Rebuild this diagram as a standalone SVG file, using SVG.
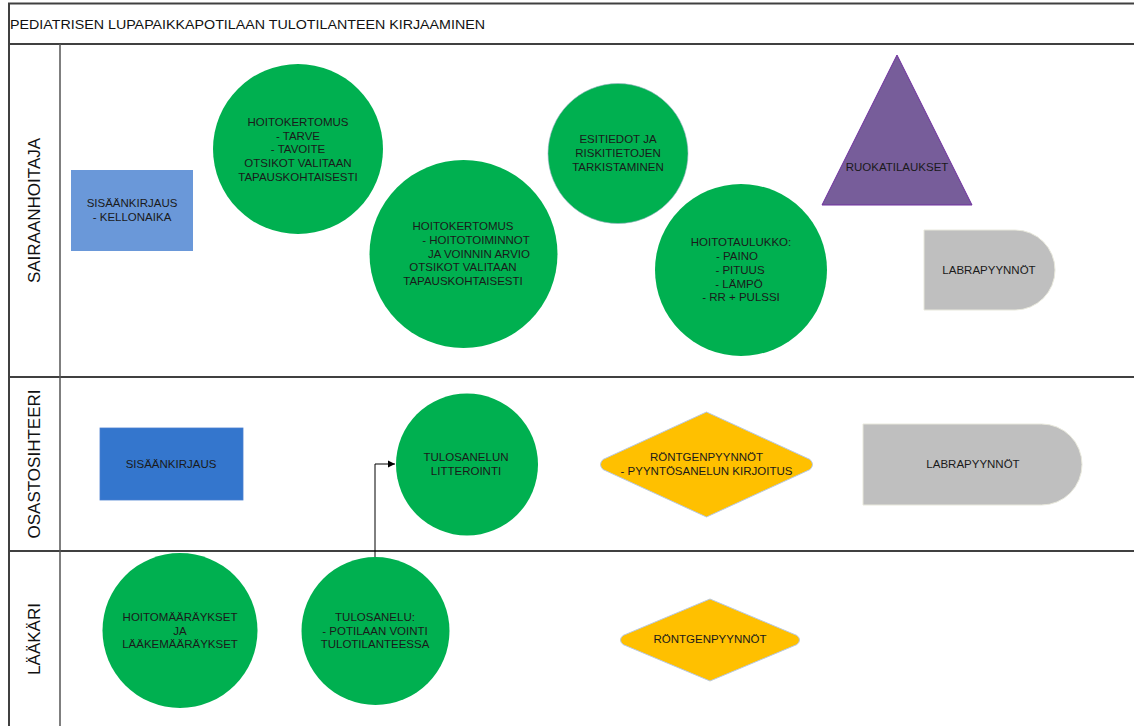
<svg xmlns="http://www.w3.org/2000/svg" width="1134" height="726" viewBox="0 0 1134 726">
<defs>
<style>
.t{font-family:"Liberation Sans",Arial,sans-serif;font-size:11.5px;fill:#1a1a1a;text-anchor:middle}
.lane{font-family:"Liberation Sans",Arial,sans-serif;font-size:17px;fill:#111;text-anchor:middle}
.green{fill:#00B050}
.grid{stroke:#404040;stroke-width:2;fill:none}
.lab{fill:#BFBFBF;stroke:#E8E8DC;stroke-width:1}
.dia{fill:#FFC000;stroke:#B8C8E0;stroke-width:1}
</style>
<marker id="arr" markerWidth="8" markerHeight="8" refX="7" refY="4" orient="auto" markerUnits="userSpaceOnUse">
<path d="M0,0.5 L7,4 L0,7.5 Z" fill="#000"/>
</marker>
</defs>
<rect width="1134" height="726" fill="#fff"/>
<g id="frame">
<rect class="grid" x="9" y="3.5" width="1140" height="740"/>
<line class="grid" x1="9" y1="44" x2="1140" y2="44"/>
<line class="grid" x1="9" y1="377" x2="1140" y2="377"/>
<line class="grid" x1="9" y1="551" x2="1140" y2="551"/>
<line x1="60" y1="44" x2="60" y2="740" stroke="#555" stroke-width="1.5"/>
<text x="10" y="29" font-family="'Liberation Sans',Arial,sans-serif" font-size="13" fill="#111" textLength="475" lengthAdjust="spacingAndGlyphs">PEDIATRISEN LUPAPAIKKAPOTILAAN TULOTILANTEEN KIRJAAMINEN</text>
<text class="lane" transform="translate(40,210.5) rotate(-90)">SAIRAANHOITAJA</text>
<text class="lane" transform="translate(40,464) rotate(-90)">OSASTOSIHTEERI</text>
<text class="lane" transform="translate(40,639) rotate(-90)">LÄÄKÄRI</text>
</g>
<g id="connectors">
<polyline points="375,557 375,464 395,464" fill="none" stroke="#000" stroke-width="1" marker-end="url(#arr)"/>
</g>
<g id="n-sisaan1">
<rect x="71" y="170" width="122" height="81" fill="#6A98D9"/>
<text class="t" x="132" y="207">SISÄÄNKIRJAUS</text>
<text class="t" x="132" y="221">- KELLONAIKA</text>
</g>
<g id="n-hoitokertomus1">
<circle class="green" cx="298" cy="149" r="85"/>
<text class="t" x="298" y="126">HOITOKERTOMUS</text>
<text class="t" x="298" y="139.5">- TARVE</text>
<text class="t" x="298" y="153">- TAVOITE</text>
<text class="t" x="298" y="167">OTSIKOT VALITAAN</text>
<text class="t" x="298" y="181">TAPAUSKOHTAISESTI</text>
</g>
<g id="n-hoitokertomus2">
<circle class="green" cx="463.5" cy="254" r="94"/>
<text class="t" x="463" y="230">HOITOKERTOMUS</text>
<text class="t" x="476" y="244">- HOITOTOIMINNOT</text>
<text class="t" x="479" y="258">JA VOINNIN ARVIO</text>
<text class="t" x="463" y="271">OTSIKOT VALITAAN</text>
<text class="t" x="463" y="285">TAPAUSKOHTAISESTI</text>
</g>
<g id="n-esitiedot">
<circle class="green" cx="618" cy="153.5" r="70" stroke="#9FB4C8" stroke-width="0.6"/>
<text class="t" x="618" y="143">ESITIEDOT JA</text>
<text class="t" x="618" y="157">RISKITIETOJEN</text>
<text class="t" x="618" y="171">TARKISTAMINEN</text>
</g>
<g id="n-hoitotaulukko">
<circle class="green" cx="741" cy="270" r="86"/>
<text class="t" x="741" y="246">HOITOTAULUKKO:</text>
<text class="t" x="737" y="260">- PAINO</text>
<text class="t" x="740" y="274">- PITUUS</text>
<text class="t" x="739" y="288">- LÄMPÖ</text>
<text class="t" x="741" y="301">- RR + PULSSI</text>
</g>
<g id="n-ruokatilaukset">
<polygon points="897,55 972,205 822,205" fill="#775D9A" stroke="#7030A0" stroke-width="1"/>
<text class="t" x="897" y="171">RUOKATILAUKSET</text>
</g>
<g id="n-labra1">
<path class="lab" d="M924,230 H1015 A40,40 0 0 1 1015,310 H924 Z"/>
<text class="t" x="989" y="274">LABRAPYYNNÖT</text>
</g>
<g id="n-sisaan2">
<rect x="100" y="428" width="143" height="72" fill="#3476CD" stroke="#4A7FD0" stroke-width="0.8"/>
<text class="t" x="171" y="468">SISÄÄNKIRJAUS</text>
</g>
<g id="n-litterointi">
<circle class="green" cx="467" cy="464.5" r="71"/>
<text class="t" x="466" y="461">TULOSANELUN</text>
<text class="t" x="466" y="475">LITTEROINTI</text>
</g>
<g id="n-rontgen1">
<path class="dia" d="M706.5,412 L810,459.5 Q815,464.5 810,469.5 L706.5,517 L603,469.5 Q598,464.5 603,459.5 Z"/>
<text class="t" x="706.5" y="461">RÖNTGENPYYNNÖT</text>
<text class="t" x="706.5" y="475">- PYYNTÖSANELUN KIRJOITUS</text>
</g>
<g id="n-labra2">
<path class="lab" d="M863,424 H1041.5 A40.5,40.5 0 0 1 1041.5,505 H863 Z"/>
<text class="t" x="973" y="468">LABRAPYYNNÖT</text>
</g>
<g id="n-hoitomaaraykset">
<circle class="green" cx="180" cy="630.5" r="77.5"/>
<text class="t" x="180" y="621">HOITOMÄÄRÄYKSET</text>
<text class="t" x="180" y="635">JA</text>
<text class="t" x="180" y="648">LÄÄKEMÄÄRÄYKSET</text>
</g>
<g id="n-tulosanelu">
<circle class="green" cx="375.5" cy="631" r="74"/>
<text class="t" x="375" y="621">TULOSANELU:</text>
<text class="t" x="375" y="635">- POTILAAN VOINTI</text>
<text class="t" x="375" y="648">TULOTILANTEESSA</text>
</g>
<g id="n-rontgen2">
<path class="dia" d="M710,599 L797,635.5 Q802,640 797,644.5 L710,681 L623,644.5 Q618,640 623,635.5 Z"/>
<text class="t" x="710" y="643">RÖNTGENPYYNNÖT</text>
</g>
</svg>
